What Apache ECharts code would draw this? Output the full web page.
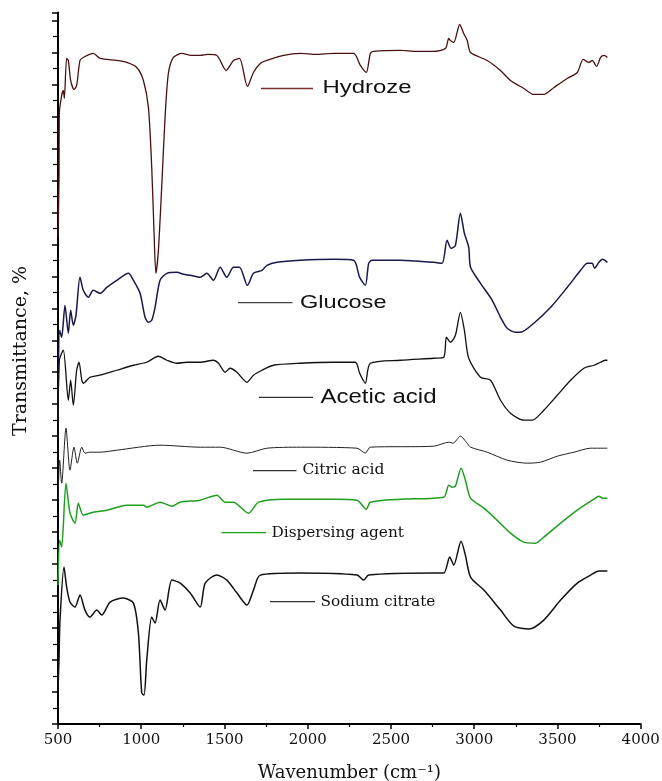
<!DOCTYPE html>
<html>
<head>
<meta charset="utf-8">
<script src="https://cdn.jsdelivr.net/npm/echarts@6/dist/echarts.min.js"></script>
<style>html,body{margin:0;padding:0;background:#fff;}#c{width:662px;height:781px;}</style>
</head>
<body>
<div id="c"></div>
<script>
// Wavenumber (cm-1) vs transmittance (offset, arbitrary units)
const xTicks = [500, 1000, 1500, 2000, 2500, 3000, 3500, 4000];

const hydroze = [[500,48.7],[506,54.4],[508,61.1],[522,62.9],[532,63.4],[538,62.6],[552,66.6],[562,66.4],[576,64.4],[596,63.5],[612,63.9],[632,66.4],[652,66.7],[712,67.1],[753,66.6],[853,66.4],[913,66.2],[973,65.7],[1013,64.4],[1043,61.7],[1063,55.7],[1077,49.1],[1088,45.1],[1103,47.4],[1124,54.1],[1143,60.7],[1163,65.1],[1193,66.7],[1244,67.1],[1300,66.9],[1354,66.9],[1400,67.0],[1454,66.9],[1510,65.4],[1554,66.4],[1590,66.6],[1638,63.8],[1674,65.2],[1715,66.1],[1755,66.4],[1855,66.9],[1955,67.1],[2050,67.0],[2156,67.1],[2276,67.1],[2316,65.9],[2352,65.2],[2376,67.1],[2396,67.3],[2557,67.4],[2650,67.3],[2757,67.3],[2827,67.6],[2847,68.6],[2857,68.4],[2877,68.2],[2913,70.0],[2937,69.1],[2958,68.4],[2978,67.2],[3078,66.4],[3158,65.4],[3218,64.4],[3298,63.6],[3358,63.0],[3418,63.0],[3479,63.7],[3559,64.6],[3619,65.2],[3655,66.5],[3689,66.2],[3709,66.4],[3735,65.8],[3759,66.7],[3780,66.9],[3800,66.7]];

const glucose = [[500,30.4],[510,39.4],[522,38.7],[542,41.9],[562,39.1],[576,41.4],[592,39.9],[608,40.9],[632,44.7],[652,43.4],[682,42.7],[712,43.4],[753,43.1],[793,43.7],[853,44.4],[923,45.1],[953,44.4],[993,43.1],[1023,40.7],[1043,40.2],[1063,40.4],[1083,41.7],[1113,44.4],[1154,45.1],[1214,45.2],[1254,45.0],[1294,44.9],[1354,44.7],[1394,45.1],[1434,44.4],[1474,45.7],[1514,44.7],[1554,45.7],[1590,45.7],[1638,43.9],[1674,45.1],[1725,45.4],[1755,45.9],[1815,46.2],[1955,46.4],[2156,46.5],[2276,46.4],[2312,44.7],[2346,43.9],[2366,46.1],[2386,46.4],[2557,46.4],[2757,46.2],[2807,46.1],[2837,48.4],[2861,47.6],[2887,47.9],[2917,51.1],[2941,49.1],[2967,47.7],[2978,45.7],[3038,44.1],[3108,42.4],[3158,40.7],[3198,39.6],[3248,39.2],[3278,39.2],[3358,40.1],[3459,41.7],[3559,43.7],[3639,45.4],[3679,46.1],[3709,46.1],[3723,45.6],[3749,46.2],[3770,46.5],[3800,46.2]];

const aceticAcid = [[500,28.4],[508,36.4],[532,37.4],[562,32.4],[576,34.4],[592,31.9],[612,35.4],[626,36.2],[643,34.4],[652,34.1],[692,34.7],[753,34.9],[853,35.4],[953,35.9],[1033,36.2],[1103,36.8],[1154,36.4],[1214,36.1],[1274,36.2],[1354,36.2],[1434,36.4],[1464,36.1],[1504,35.2],[1534,35.6],[1575,35.2],[1635,34.2],[1674,34.9],[1725,35.4],[1795,35.9],[1955,36.1],[2156,36.2],[2286,36.2],[2312,35.1],[2346,34.1],[2376,36.1],[2557,36.4],[2757,36.6],[2817,36.7],[2833,38.7],[2857,38.2],[2887,38.9],[2917,41.2],[2941,39.4],[2967,36.6],[3038,34.7],[3098,34.4],[3158,32.4],[3218,31.1],[3298,30.4],[3348,30.4],[3418,31.4],[3499,32.9],[3579,34.4],[3659,35.6],[3719,35.9],[3759,36.2],[3789,36.4],[3800,36.4]];

const citricAcid = [[500,22.4],[510,26.4],[522,24.1],[548,29.6],[572,25.4],[596,27.7],[616,26.1],[643,27.7],[662,27.1],[692,27.2],[753,27.2],[853,27.4],[1113,27.9],[1354,27.7],[1474,27.7],[1635,27.1],[1755,27.6],[1955,27.7],[2296,27.6],[2346,27.1],[2376,27.7],[2757,27.8],[2847,28.2],[2873,28.1],[2917,28.8],[2958,28.1],[2978,27.7],[3078,27.2],[3198,26.4],[3318,26.1],[3398,26.2],[3499,26.8],[3599,27.2],[3699,27.6],[3800,27.6]];

const dispersingAgent = [[500,13.9],[510,18.4],[522,17.7],[548,24.1],[572,21.1],[602,20.1],[622,22.1],[652,20.9],[712,21.2],[793,21.4],[913,21.9],[1013,21.9],[1033,21.7],[1113,22.2],[1184,21.8],[1234,22.2],[1354,22.4],[1454,22.9],[1504,22.2],[1554,22.2],[1644,21.1],[1705,22.2],[1855,22.5],[2156,22.5],[2296,22.4],[2352,21.5],[2376,22.2],[2557,22.5],[2817,22.7],[2847,23.9],[2867,23.7],[2887,23.8],[2921,25.6],[2947,24.4],[2978,22.6],[3058,21.6],[3118,20.7],[3218,19.1],[3298,18.2],[3368,18.1],[3418,18.7],[3519,20.1],[3619,21.4],[3719,22.5],[3749,22.8],[3770,22.6],[3800,22.6]];

const sodiumCitrate = [[500,3.4],[506,6.4],[512,10.4],[536,15.7],[552,13.7],[572,12.2],[602,11.7],[632,12.9],[662,11.4],[692,10.7],[733,11.4],[763,10.9],[813,12.2],[893,12.6],[953,12.1],[983,9.1],[1003,3.1],[1017,2.9],[1033,6.4],[1063,10.7],[1083,10.1],[1113,12.4],[1143,11.4],[1184,14.4],[1234,14.1],[1294,13.1],[1354,11.7],[1384,14.1],[1454,14.9],[1514,14.4],[1575,13.1],[1635,11.9],[1674,13.4],[1715,14.9],[1955,15.1],[2296,14.9],[2336,14.4],[2366,14.9],[2757,15.1],[2817,15.1],[2853,16.7],[2877,15.9],[2921,18.3],[2947,16.9],[2978,14.7],[3058,13.4],[3158,11.4],[3238,9.8],[3328,9.5],[3418,10.4],[3519,12.4],[3619,14.1],[3699,14.9],[3749,15.3],[3800,15.3]];

const seriesNames = ['Hydroze', 'Glucose', 'Acetic acid', 'Citric acid', 'Dispersing agent', 'Sodium citrate'];
const seriesData = [hydroze, glucose, aceticAcid, citricAcid, dispersingAgent, sodiumCitrate];
const seriesColors = ['#4a1010', '#18184a', '#111111', '#222222', '#1f9f1f', '#111111'];
const seriesWidths = [1.3, 1.5, 1.3, 1.0, 1.5, 1.5];
const legendLineColors = ['#7a3030', '#444444', '#333333', '#333333', '#1f9f1f', '#333333'];

const chart = echarts.init(document.getElementById('c'), null, {renderer: 'canvas'});

const labelDefs = [
  {line: [261, 313, 88.5], tx: 322.5, ty: 88.5, font: '18px "Liberation Sans"', sx: 1.33},
  {line: [238, 292.5, 302.7], tx: 300, ty: 303, font: '18px "Liberation Sans"', sx: 1.31},
  {line: [259, 313, 397.3], tx: 320.5, ty: 397.3, font: '20px "Liberation Sans"', sx: 1.2},
  {line: [253, 296.5, 470.7], tx: 302.5, ty: 470.3, font: '15.5px "DejaVu Serif"', sx: 1.0},
  {line: [221.5, 266, 532.7], tx: 271.5, ty: 533.3, font: '15.3px "DejaVu Serif"', sx: 1.0},
  {line: [270, 315, 601.7], tx: 320.5, ty: 601.8, font: '15.3px "DejaVu Serif"', sx: 1.0}
];

const graphics = [];
labelDefs.forEach((d, i) => {
  graphics.push({
    type: 'line', silent: true,
    shape: {x1: d.line[0], y1: d.line[2], x2: d.line[1], y2: d.line[2]},
    style: {stroke: legendLineColors[i], lineWidth: 1.3}
  });
  graphics.push({
    type: 'text', silent: true, x: d.tx, y: d.ty, scaleX: d.sx,
    style: {text: seriesNames[i], font: d.font, fill: '#111', textAlign: 'left', textVerticalAlign: 'middle'}
  });
});
graphics.push({
  type: 'text', silent: true, x: 21, y: 351, rotation: Math.PI / 2,
  style: {text: 'Transmittance, %', font: '19px "DejaVu Serif"', fill: '#111', textAlign: 'center', textVerticalAlign: 'middle'}
});

chart.setOption({
  animation: false,
  backgroundColor: '#ffffff',
  grid: {left: 58, right: 21.3, top: 12.5, bottom: 57, containLabel: false, outerBoundsMode: 'none'},
  xAxis: {
    type: 'value', min: xTicks[0], max: xTicks[xTicks.length - 1], interval: 500,
    name: 'Wavenumber (cm⁻¹)', nameLocation: 'middle', nameGap: 40,
    nameTextStyle: {fontFamily: 'DejaVu Serif', fontSize: 18, color: '#111'},
    axisLine: {show: true, onZero: false, lineStyle: {color: '#000', width: 2}},
    axisTick: {show: true, inside: false, length: 5, lineStyle: {color: '#000', width: 1.5}},
    minorTick: {show: true, splitNumber: 2, length: 3, lineStyle: {color: '#000', width: 1.2}},
    axisLabel: {show: true, margin: 9, fontFamily: 'DejaVu Serif', fontSize: 15, color: '#111',
      formatter: v => String(v)},
    splitLine: {show: false}, minorSplitLine: {show: false}
  },
  yAxis: {
    type: 'value', min: 0, max: 71.2, interval: 3.2,
    axisLine: {show: true, onZero: false, lineStyle: {color: '#000', width: 2}},
    axisTick: {show: true, inside: false, length: 6, lineStyle: {color: '#000', width: 1.5}},
    minorTick: {show: true, splitNumber: 2, length: 5, lineStyle: {color: '#000', width: 1.2}},
    axisLabel: {show: false},
    splitLine: {show: false}, minorSplitLine: {show: false}
  },
  series: seriesData.map((d, i) => ({
    name: seriesNames[i], type: 'line', data: d, showSymbol: false, symbol: 'none',
    smooth: 0.25, clip: true,
    lineStyle: {color: seriesColors[i], width: seriesWidths[i]},
    itemStyle: {color: seriesColors[i]}, z: 2 + i
  })),
  graphic: graphics
});
</script>
</body>
</html>
